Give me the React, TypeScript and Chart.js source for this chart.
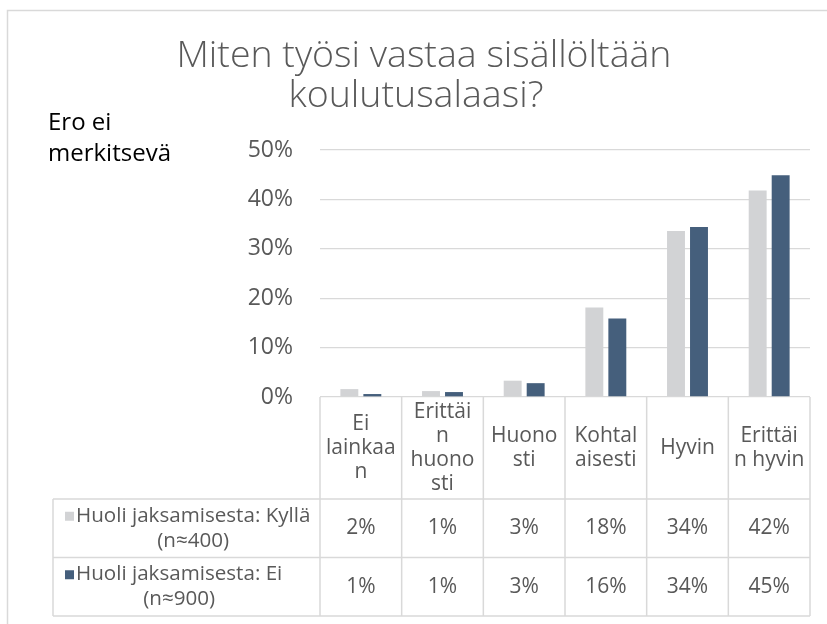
import React, { useEffect, useRef } from "react";
import { Chart, registerables } from "chart.js";

Chart.register(...registerables);

const titleLines = ["Miten työsi vastaa sisällöltään", "koulutusalaasi?"];
const noteLines = ["Ero ei", "merkitsevä"];
const categories = [
  ["Ei", "lainkaa", "n"],
  ["Erittäi", "n", "huono", "sti"],
  ["Huono", "sti"],
  ["Kohtal", "aisesti"],
  ["Hyvin"],
  ["Erittäi", "n hyvin"],
];
const seriesNames = [
  ["Huoli jaksamisesta: Kyllä", "(n≈400)"],
  ["Huoli jaksamisesta: Ei", "(n≈900)"],
];
const yesValues = [1.6, 1.2, 3.3, 18.1, 33.6, 41.8];
const noValues = [0.6, 1.0, 2.8, 15.9, 34.4, 44.9];
const seriesColors = ["#d2d3d5", "#455f7c"];
const yMax = 50;
const yStep = 10;

const FONT = "'Open Sans', 'Noto Sans', sans-serif";
const TEXT = "#595959";
const LINE = "#d9d9d9";

const decorPlugin = {
  id: "decor",
  beforeDraw(chart: any) {
    const ctx = chart.ctx;
    ctx.save();
    ctx.fillStyle = "#ffffff";
    ctx.fillRect(0, 0, chart.width, chart.height);
    // frame
    ctx.strokeStyle = LINE;
    ctx.lineWidth = 1.5;
    ctx.beginPath();
    ctx.moveTo(7.5, chart.height);
    ctx.lineTo(7.5, 10.5);
    ctx.lineTo(chart.width, 10.5);
    ctx.stroke();
    // title
    ctx.fillStyle = TEXT;
    ctx.font = `300 37.5px ${FONT}`;
    ctx.textAlign = "center";
    ctx.textBaseline = "alphabetic";
    ctx.fillText(titleLines[0], 424, 67);
    ctx.fillText(titleLines[1], 416, 107);
    // note
    ctx.fillStyle = "#000000";
    ctx.font = `24px ${FONT}`;
    ctx.textAlign = "left";
    ctx.fillText(noteLines[0], 48, 130);
    ctx.fillText(noteLines[1], 48, 161);
    ctx.restore();
  },
  afterDraw(chart: any) {
    const ctx = chart.ctx;
    const x = chart.scales.x;
    const area = chart.chartArea;
    const n = categories.length;
    const step = x.getPixelForValue(1) - x.getPixelForValue(0);
    const bounds: number[] = [];
    for (let i = 0; i <= n; i++) bounds.push(x.getPixelForValue(i) - step / 2);
    const top = area.bottom;
    const headerBottom = top + 102;
    const rowH = 58.5;
    const rowsBottom = headerBottom + rowH * seriesNames.length;
    const labelLeft = 53;

    ctx.save();
    ctx.strokeStyle = LINE;
    ctx.lineWidth = 1.5;
    ctx.beginPath();
    for (let i = 0; i <= n; i++) {
      ctx.moveTo(bounds[i], top);
      ctx.lineTo(bounds[i], rowsBottom);
    }
    ctx.moveTo(labelLeft, headerBottom);
    ctx.lineTo(labelLeft, rowsBottom);
    for (let r = 0; r <= seriesNames.length; r++) {
      const yy = headerBottom + r * rowH;
      ctx.moveTo(labelLeft, yy);
      ctx.lineTo(bounds[n], yy);
    }
    ctx.stroke();

    // header labels
    ctx.fillStyle = TEXT;
    ctx.font = `21px ${FONT}`;
    ctx.textAlign = "center";
    ctx.textBaseline = "middle";
    const lh = 24;
    const hc = (top + headerBottom) / 2;
    categories.forEach((lines, i) => {
      const cx = x.getPixelForValue(i);
      const y0 = hc - ((lines.length - 1) * lh) / 2;
      lines.forEach((t, k) => ctx.fillText(t, cx, y0 + k * lh));
    });

    // rows
    const allValues = [yesValues, noValues];
    seriesNames.forEach((lines, r) => {
      const rc = headerBottom + r * rowH + rowH / 2;
      // values
      ctx.font = `21px ${FONT}`;
      ctx.fillStyle = TEXT;
      allValues[r].forEach((v, i) => {
        ctx.fillText(Math.round(v) + "%", x.getPixelForValue(i), rc);
      });
      // label
      ctx.font = `20.6px ${FONT}`;
      const textLeft = labelLeft + 23;
      const widths = lines.map((t) => ctx.measureText(t).width);
      const blockW = Math.max(...widths);
      const y0 = rc - 25 / 2;
      ctx.fillStyle = seriesColors[r];
      ctx.fillRect(labelLeft + 12, y0 - 4, 9, 9);
      ctx.fillStyle = TEXT;
      lines.forEach((t, k) => ctx.fillText(t, textLeft + blockW / 2, y0 + k * 25));
    });
    ctx.restore();
  },
};

export default function App() {
  const ref = useRef<HTMLCanvasElement>(null);
  useEffect(() => {
    document.body.style.margin = "0";
    const chart = new Chart(ref.current as HTMLCanvasElement, {
      type: "bar",
      data: {
        labels: categories.map((c) => c.join("")),
        datasets: [
          {
            label: seriesNames[0].join(" "),
            data: yesValues,
            backgroundColor: seriesColors[0],
            categoryPercentage: 0.563,
            barPercentage: 0.78,
          },
          {
            label: seriesNames[1].join(" "),
            data: noValues,
            backgroundColor: seriesColors[1],
            categoryPercentage: 0.563,
            barPercentage: 0.78,
          },
        ],
      },
      options: {
        responsive: false,
        devicePixelRatio: 1,
        animation: false,
        layout: { padding: { left: 0, right: 17, top: 150, bottom: 227 } },
        plugins: {
          legend: { display: false },
          title: { display: false },
          tooltip: { enabled: false },
        },
        scales: {
          x: { display: false },
          y: {
            min: 0,
            max: yMax,
            ticks: {
              stepSize: yStep,
              padding: 27,
              color: TEXT,
              font: { family: FONT, size: 23 },
              callback: (v: any) => v + "%",
            },
            grid: { color: LINE, lineWidth: 1.3, drawTicks: false },
            border: { display: false },
            afterFit: (s: any) => {
              s.width = 320;
            },
          },
        },
      },
      plugins: [decorPlugin],
    });
    return () => chart.destroy();
  }, []);
  return <canvas ref={ref} width={827} height={624} style={{ display: "block" }} />;
}
